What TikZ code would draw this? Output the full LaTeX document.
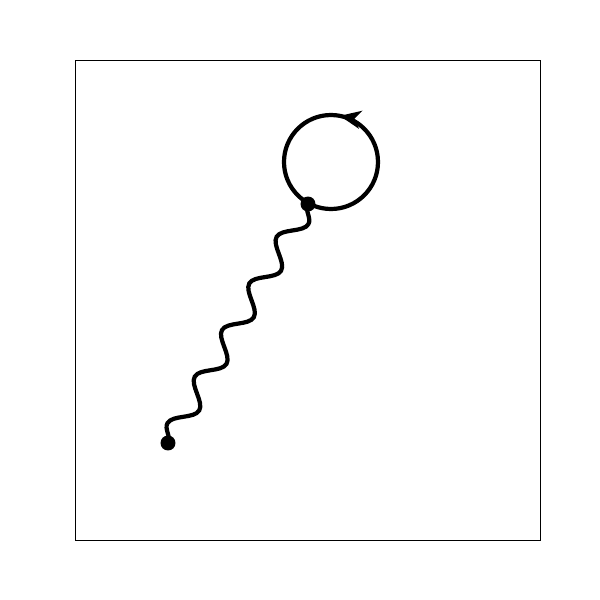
\documentclass[tikz,border=0pt]{standalone}
\usetikzlibrary{arrows.meta, decorations.pathmorphing, decorations.markings}

\begin{document}
\begin{tikzpicture}[x=0.02cm, y=0.02cm,
  vertex/.style={circle, fill=black, inner sep=0pt, minimum size=0.3cm},
  prop/.style={line width=2.4pt, black},
  gluon/.style={prop, decorate, decoration={snake, segment length=1.08cm, amplitude=0.21cm}},
  loopline/.style={prop, postaction={decorate}, decoration={markings,
      mark=at position 0.22 with {\arrow{Stealth[length=0.42cm, width=0.36cm, inset=0.12cm]}}}}
]
  \useasboundingbox (0,0) rectangle (600,600);
  \draw[line width=0.5pt] (75,60) rectangle (540,540);

  \coordinate (loopc) at (331,438);
  \draw[loopline] (loopc) circle (47);

  \node[vertex] (v1) at (308,396) {};
  \node[vertex] (v2) at (168,157) {};

  \draw[gluon] (v2.center) -- (v1.center);
\end{tikzpicture}
\end{document}
